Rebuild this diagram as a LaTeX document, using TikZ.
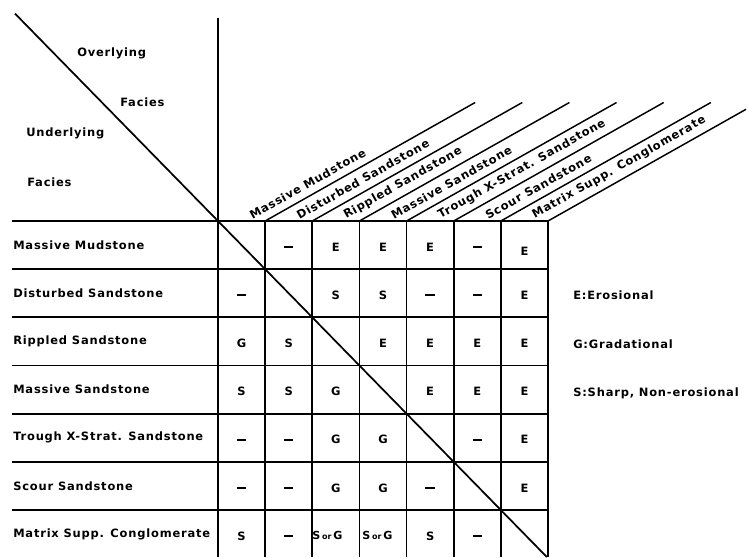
\documentclass[tikz,border=0pt]{standalone}
\usepackage{fontspec}
\setmainfont{DejaVu Sans}
\newfontfamily\lblfont{DejaVu Sans}[LetterSpace=7]
\begin{document}
\begin{tikzpicture}[x=0.75pt,y=-0.75pt,
  lbl/.style={font={\lblfont\bfseries\fontsize{8.6pt}{10pt}\selectfont}, inner sep=0pt},
  cell/.style={font={\lblfont\bfseries\fontsize{8.6pt}{10pt}\selectfont}, inner sep=0pt},
  gridline/.style={line width=1.3pt},
  slant/.style={line width=1.1pt},
  hdr/.style={lbl, anchor=west, rotate=29.4}]
\useasboundingbox (0,0) rectangle (748,557);
% grid coordinates
\foreach \i in {0,...,7} {\coordinate (c\i) at ({218+47.14*\i},221);}
\foreach \j in {0,...,7} {\coordinate (r\j) at (12,{221+48.17*\j});}
\coordinate (bot) at (0,557);
\coordinate (vtop) at (218,18);
\coordinate (dstart) at (15,13.6);
\coordinate (dend) at (546.8,557);
% vertical lines
\draw[gridline] (vtop) -- (c0 |- bot);
\foreach \i in {1,...,7} {\draw[gridline] (c\i) -- (c\i |- bot);}
% horizontal lines
\foreach \j in {0,...,6} {\draw[gridline] (r\j) -- (r\j -| c7);}
% diagonal
\draw[gridline] (dstart) -- (dend);
% slanted header lines
\foreach \i in {1,...,6} {\draw[slant] (c\i) -- ++(210,-118.5);}
\draw[slant] (c7) -- ++(198,-111.7);
% header labels
\foreach \i/\t [evaluate=\i as \xm using {218+47.14*(\i-0.5)+8.7}] in
  {1/Massive Mudstone, 2/Disturbed Sandstone, 3/Rippled Sandstone,
   4/Massive Sandstone, 5/Trough X-Strat. Sandstone, 6/Scour Sandstone,
   7/Matrix Supp. Conglomerate}
  {\node[hdr] (h\i) at (\xm,216.1) {\t};}
% corner labels
\node[lbl, anchor=west] (ov) at (77,53) {Overlying};
\node[lbl, anchor=west] (of) at (120,102) {Facies};
\node[lbl, anchor=west] (un) at (26,133) {Underlying};
\node[lbl, anchor=west] (uf) at (27,182) {Facies};
% row labels
\foreach \j/\t [evaluate=\j as \ym using {221+48.17*(\j-0.5)}] in
  {1/Massive Mudstone, 2/Disturbed Sandstone, 3/Rippled Sandstone,
   4/Massive Sandstone, 5/Trough X-Strat. Sandstone, 6/Scour Sandstone,
   7/Matrix Supp. Conglomerate}
  {\node[lbl, anchor=west] (rl\j) at (13,\ym) {\t};}
% cells
\newcommand\cellat[3]{\node[cell] (m-#1-#2) at ({218+47.14*(#2-0.5)},{221+48.17*(#1-0.5)+2}) {#3};}
\newcommand\dsh{\rule{7pt}{1.7pt}}
\cellat{1}{2}{\dsh}\cellat{1}{3}{E}\cellat{1}{4}{E}\cellat{1}{5}{E}\cellat{1}{6}{\dsh}
\node[cell] (m-1-7) at ({218+47.14*6.5},{221+48.17*0.5+6}) {E};
\cellat{2}{1}{\dsh}\cellat{2}{3}{S}\cellat{2}{4}{S}\cellat{2}{5}{\dsh}\cellat{2}{6}{\dsh}\cellat{2}{7}{E}
\cellat{3}{1}{G}\cellat{3}{2}{S}\cellat{3}{4}{E}\cellat{3}{5}{E}\cellat{3}{6}{E}\cellat{3}{7}{E}
\cellat{4}{1}{S}\cellat{4}{2}{S}\cellat{4}{3}{G}\cellat{4}{5}{E}\cellat{4}{6}{E}\cellat{4}{7}{E}
\cellat{5}{1}{\dsh}\cellat{5}{2}{\dsh}\cellat{5}{3}{G}\cellat{5}{4}{G}\cellat{5}{6}{\dsh}\cellat{5}{7}{E}
\cellat{6}{1}{\dsh}\cellat{6}{2}{\dsh}\cellat{6}{3}{G}\cellat{6}{4}{G}\cellat{6}{5}{\dsh}\cellat{6}{7}{E}
\cellat{7}{1}{S}\cellat{7}{2}{\dsh}\cellat{7}{5}{S}\cellat{7}{6}{\dsh}
\node[font={\bfseries\fontsize{8.3pt}{10pt}\selectfont}, inner sep=0pt, anchor=west] (m-7-3) at (312,535) {S\,{\fontsize{6pt}{7pt}\selectfont or}\,G};
\node[font={\bfseries\fontsize{8.3pt}{10pt}\selectfont}, inner sep=0pt, anchor=west] (m-7-4) at (362,535) {S\,{\fontsize{6pt}{7pt}\selectfont or}\,G};
% legend
\node[lbl, anchor=west] (le) at (573,295) {E:Erosional};
\node[lbl, anchor=west] (lg) at (573,344) {G:Gradational};
\node[lbl, anchor=west] (ls) at (573,393) {S:Sharp, Non-erosional};
\end{tikzpicture}
\end{document}
